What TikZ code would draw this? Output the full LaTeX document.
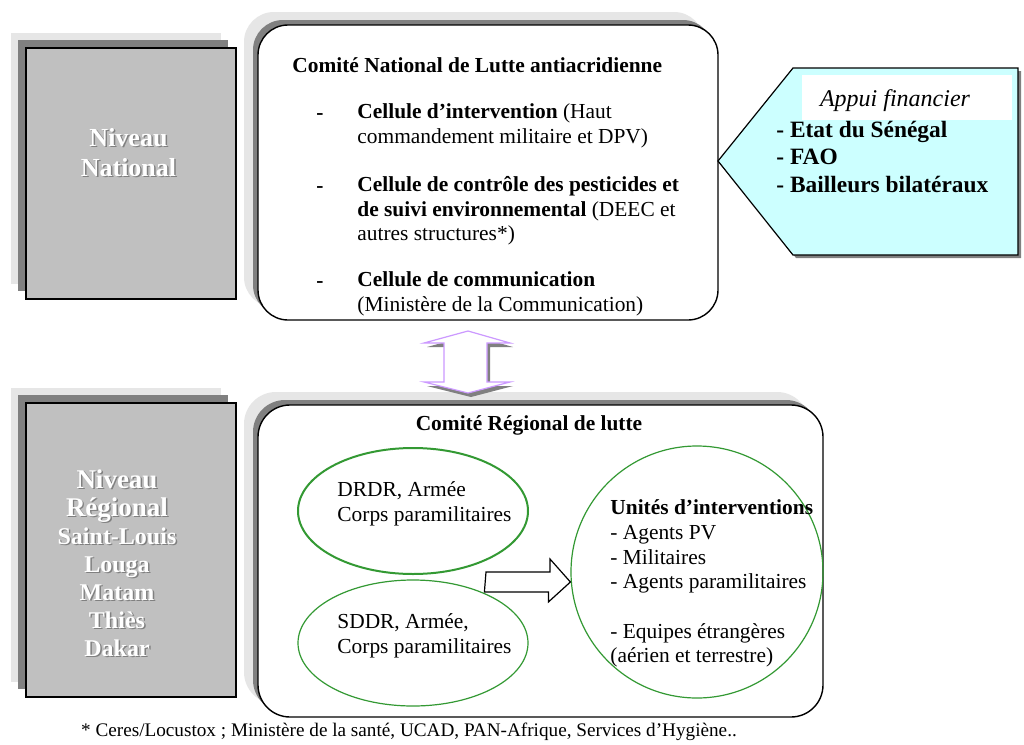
\documentclass[tikz,border=0pt]{standalone}
\usepackage{fontspec}
\setmainfont{Liberation Serif}
\usepackage{xcolor}
\usepackage{tikz}
\usetikzlibrary{shapes.geometric,shadows}

\definecolor{boxgray}{HTML}{C0C0C0}
\definecolor{shadowdark}{HTML}{808080}
\definecolor{shadowlight}{HTML}{E6E6E6}
\definecolor{appuicyan}{HTML}{CCFFFF}
\definecolor{arrowviolet}{HTML}{CC99FF}
\definecolor{ovalgreen}{HTML}{339933}

\tikzset{
  levelbox/.style={draw=black, line width=0.7pt, fill=boxgray, inner sep=0pt, outer sep=0pt,
    general shadow={fill=shadowlight, shadow xshift=-7.5pt, shadow yshift=7.5pt},
    general shadow={fill=shadowdark, shadow xshift=-4pt, shadow yshift=4pt}},
  comitebox/.style={draw=black, line width=0.7pt, fill=white, rounded corners=15pt, inner sep=0pt, outer sep=0pt,
    general shadow={fill=shadowlight, shadow xshift=-7pt, shadow yshift=6.5pt},
    general shadow={fill=shadowdark, shadow xshift=-2.5pt, shadow yshift=2.5pt}},
  leveltext/.style={text=white, font=\bfseries\fontsize{13}{15}\selectfont, align=center, inner sep=0pt},
  levelshade/.style={leveltext, text=shadowdark},
  bodytext/.style={font=\fontsize{10.7}{12.35}\selectfont, align=left, inner sep=0pt, anchor=west,
    execute at begin node=\strut, execute at end node=\strut},
  oval/.style={ellipse, draw=ovalgreen, line width=0.6pt, inner sep=0pt},
  appuishape/.style={draw=black, line width=0.6pt, fill=appuicyan,
    general shadow={fill=shadowdark, shadow xshift=1.5pt, shadow yshift=-1.5pt}},
  violetarrow/.style={draw=arrowviolet, line width=0.6pt, fill=white,
    general shadow={fill=shadowdark, shadow xshift=1.5pt, shadow yshift=-2pt}},
  blockarrow/.style={draw=black, line width=0.6pt, fill=white}
}

\begin{document}
\begin{tikzpicture}[x=0.5pt,y=-0.5pt]
\fill[white] (0,0) rectangle (1024,745);
\useasboundingbox (0,0) rectangle (1024,745);

\node[levelbox, minimum width=105pt, minimum height=125.5pt] (natbox) at (131,173.5) {};
\node[levelshade] (natlevelshade) at (130,154) {Niveau\\National};
\node[leveltext] (natlevel) at (128.5,152.5) {Niveau\\National};

\node[comitebox, minimum width=230pt, minimum height=147.5pt] (natcomite) at (488,172.5) {};
\node[bodytext, font=\bfseries\fontsize{10.7}{12.35}\selectfont] (natitle) at (292,68) {Comité National de Lutte antiacridienne};
\node[bodytext] (dashA) at (316,115) {\textbf{-}};
\node[bodytext] (celluleA) at (357,127.5) {\textbf{Cellule d’intervention} (Haut\\commandement militaire et DPV)};
\node[bodytext] (dashB) at (316,188) {\textbf{-}};
\node[bodytext] (celluleB) at (357,212.3) {\textbf{Cellule de contrôle des pesticides et}\\\textbf{de suivi environnemental} (DEEC et\\autres structures*)};
\node[bodytext] (dashC) at (316,283) {\textbf{-}};
\node[bodytext] (celluleC) at (357,295.5) {\textbf{Cellule de communication}\\(Ministère de la Communication)};

\draw[appuishape] (718,161) coordinate (appuitip) -- ++(75,-93) -- ++(225,0) -- ++(0,187) -- ++(-225,0) -- cycle;
\node[fill=white, minimum width=105pt, minimum height=22.5pt, inner sep=0pt] (appuibox) at (907,97.5) {};
\node[font=\itshape\fontsize{12}{14}\selectfont, inner sep=0pt] (appuititle) at (895,101) {Appui financier};
\node[bodytext, font=\bfseries\fontsize{11.7}{13.75}\selectfont] (appuilist) at (776,160.5) {- Etat du Sénégal\\- FAO\\- Bailleurs bilatéraux};

\node[levelbox, minimum width=105pt, minimum height=147pt] (regbox) at (131,550) {};
\node[levelshade, font=\bfseries\fontsize{12}{14}\selectfont] (reglevelshade) at (118.5,564.5) {{\fontsize{13.5}{14}\selectfont Niveau}\\{\fontsize{13.5}{14}\selectfont Régional}\\Saint-Louis\\Louga\\Matam\\Thiès\\Dakar};
\node[leveltext, font=\bfseries\fontsize{12}{14}\selectfont] (reglevel) at (117,563) {{\fontsize{13.5}{14}\selectfont Niveau}\\{\fontsize{13.5}{14}\selectfont Régional}\\Saint-Louis\\Louga\\Matam\\Thiès\\Dakar};

\node[comitebox, rounded corners=16pt, minimum width=282.5pt, minimum height=156pt] (regcomite) at (540.5,561) {};
\node[font=\bfseries\fontsize{10.7}{12.35}\selectfont, inner sep=0pt] (regtitle) at (529,425) {Comité Régional de lutte};

\coordinate (darrowtop) at ([xshift=-10pt,yshift=-5.5pt]natcomite.south);
\coordinate (darrowbot) at ([xshift=-36.25pt,yshift=6pt]regcomite.north);
\draw[violetarrow] (darrowtop) -- ++(42,12) -- ++(-23,0) -- ++(0,39) -- ++(23,0) -- (darrowbot) -- ++(-44,-11) -- ++(20,0) -- ++(0,-39) -- ++(-20,0) -- cycle;

\node[oval, line width=1pt, minimum width=115pt, minimum height=63pt] (drdr) at (413,511) {};
\node[oval, minimum width=115pt, minimum height=63pt] (sddr) at (413,643) {};
\node[oval, circle, minimum size=126pt] (unites) at (697,572) {};
\node[bodytext] (drdrtext) at (337,505) {DRDR, Armée\\Corps paramilitaires};
\node[bodytext] (sddrtext) at (337,637.5) {SDDR, Armée,\\Corps paramilitaires};
\node[bodytext] (unitestext) at (610,585) {\textbf{Unités d’interventions}\\- Agents PV\\- Militaires\\- Agents paramilitaires\\[12.35pt]- Equipes étrangères\\(aérien et terrestre)};

\coordinate (harrowtail) at (486,582);
\coordinate (harrowtip) at ([yshift=-5pt]unites.west);
\draw[blockarrow] (harrowtail) ++(0,-10) -- ++(64,0) -- ++(0,-13) -- (harrowtip) -- ++(-22,20) -- ++(0,-10) -- ++(-64,0) -- cycle;

\node[font=\fontsize{9.6}{11}\selectfont, inner sep=0pt] (footnote) at (409,732) {* Ceres/Locustox ; Ministère de la santé, UCAD, PAN-Afrique, Services d’Hygiène..};

\end{tikzpicture}
\end{document}
